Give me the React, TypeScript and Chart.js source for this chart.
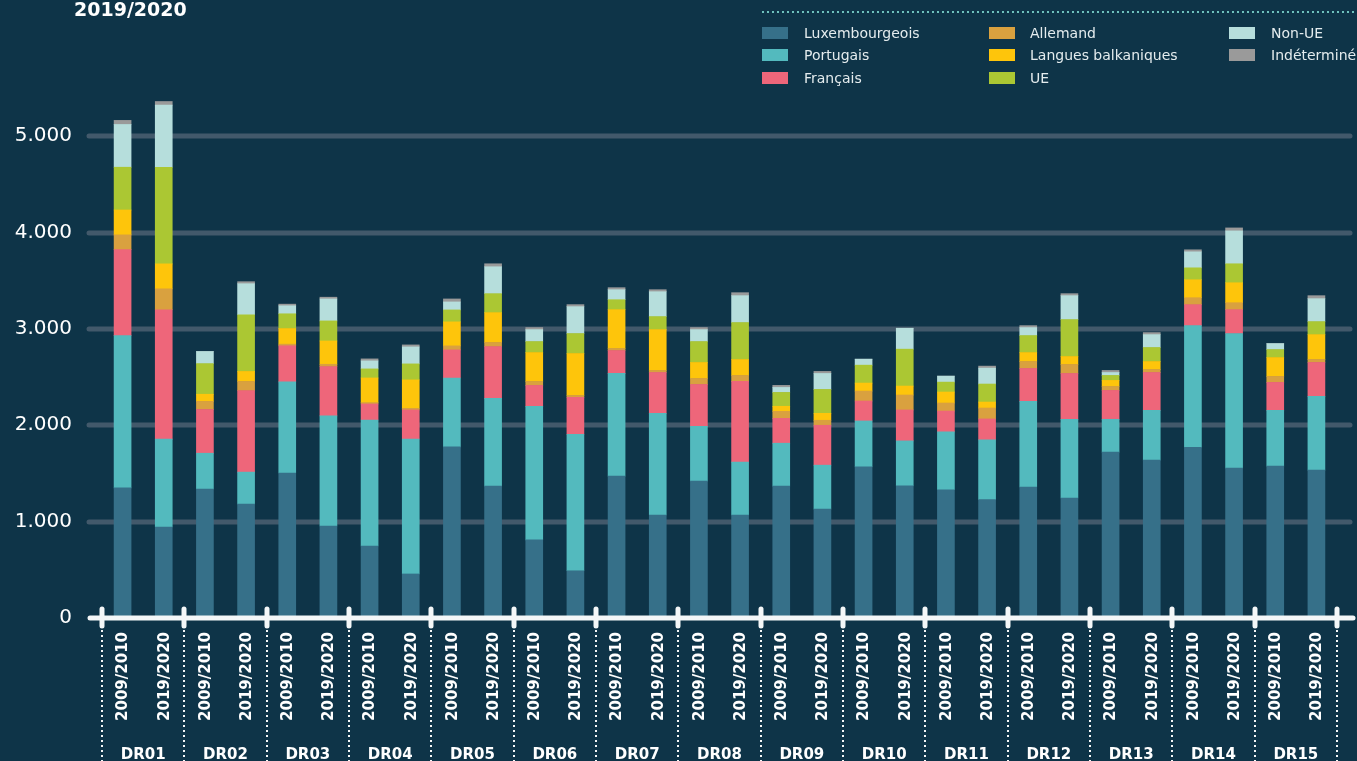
import React, { useEffect, useRef } from 'react';
import { Chart, registerables } from 'chart.js';

Chart.register(...registerables);

const regions = ['DR01', 'DR02', 'DR03', 'DR04', 'DR05', 'DR06', 'DR07', 'DR08', 'DR09', 'DR10', 'DR11', 'DR12', 'DR13', 'DR14', 'DR15'];
const years = ['2009/2010', '2019/2020'];
const categories = regions.flatMap((r) => years.map((y) => `${r} ${y}`));

const luxembourgeois = [1350, 944, 1339, 1182, 1505, 955, 747, 457, 1775, 1369, 810, 490, 1472, 1069, 1421, 1069, 1369, 1131, 1569, 1372, 1331, 1228, 1359, 1245, 1721, 1638, 1772, 1555, 1576, 1534];
const portugais = [1580, 913, 371, 332, 945, 1142, 1308, 1401, 716, 910, 1387, 1417, 1066, 1055, 569, 548, 445, 455, 476, 466, 600, 620, 889, 817, 341, 517, 1262, 1397, 579, 766];
const francais = [892, 1342, 454, 846, 375, 512, 166, 301, 291, 538, 217, 383, 238, 424, 434, 838, 258, 414, 207, 321, 217, 218, 342, 476, 300, 393, 218, 248, 290, 352];
const allemand = [154, 217, 84, 95, 17, 24, 14, 17, 42, 42, 41, 20, 21, 21, 62, 62, 73, 52, 103, 155, 83, 113, 72, 93, 41, 31, 72, 72, 62, 31];
const balkaniques = [258, 259, 74, 104, 162, 242, 256, 295, 249, 310, 300, 435, 403, 424, 166, 166, 52, 72, 83, 93, 114, 62, 93, 83, 63, 83, 186, 207, 196, 258];
const ue = [444, 1003, 318, 588, 153, 208, 94, 166, 124, 197, 114, 207, 103, 135, 217, 383, 144, 248, 186, 383, 103, 187, 176, 383, 51, 145, 124, 197, 83, 135];
const nonUe = [444, 644, 126, 322, 83, 228, 83, 176, 83, 279, 124, 279, 104, 258, 124, 279, 52, 166, 62, 217, 62, 165, 83, 248, 31, 134, 166, 341, 62, 238];
const indetermine = [42, 38, 0, 21, 17, 18, 21, 21, 31, 31, 21, 21, 21, 21, 21, 31, 21, 21, 0, 0, 0, 21, 20, 21, 21, 21, 21, 31, 0, 31];

const seriesNames = ['Luxembourgeois', 'Portugais', 'Français', 'Allemand', 'Langues balkaniques', 'UE', 'Non-UE', 'Indéterminé'];
const seriesColors = ['#367089', '#53babe', '#ee667a', '#d9a13f', '#fec50b', '#abc733', '#b6dedc', '#9a9a9a'];
const seriesValues = [luxembourgeois, portugais, francais, allemand, balkaniques, ue, nonUe, indetermine];

const yTicks = [0, 1000, 2000, 3000, 4000, 5000];
const yTickLabels = ['0', '1.000', '2.000', '3.000', '4.000', '5.000'];
const titleText = '2019/2020';

const BG = '#0e3448';
const FONT = '"DejaVu Sans", sans-serif';

const decorPlugin = {
  id: 'decor',
  beforeDraw(chart: any) {
    const ctx = chart.ctx;
    ctx.save();
    ctx.fillStyle = BG;
    ctx.fillRect(0, 0, chart.width, chart.height);
    ctx.restore();
  },
  beforeDatasetsDraw(chart: any) {
    const ctx = chart.ctx;
    const y = chart.scales.y;
    ctx.save();
    ctx.strokeStyle = '#42596b';
    ctx.lineWidth = 5;
    ctx.lineCap = 'round';
    yTicks.forEach((v) => {
      if (v === 0) return;
      const py = Math.round(y.getPixelForValue(v));
      ctx.beginPath();
      ctx.moveTo(89, py);
      ctx.lineTo(1350, py);
      ctx.stroke();
    });
    ctx.restore();
  },
  afterDatasetsDraw(chart: any) {
    const ctx = chart.ctx;
    const x = chart.scales.x;
    const y = chart.scales.y;
    const y0 = Math.round(y.getPixelForValue(0));
    const catW = (x.right - x.left) / categories.length;
    ctx.save();
    // axis line
    ctx.strokeStyle = '#f4f7f8';
    ctx.lineCap = 'round';
    ctx.lineWidth = 5;
    ctx.beginPath();
    ctx.moveTo(90, y0);
    ctx.lineTo(1353, y0);
    ctx.stroke();
    // group ticks and dotted separators
    for (let g = 0; g <= regions.length; g++) {
      const bx = Math.round(x.left + g * 2 * catW);
      ctx.setLineDash([]);
      ctx.lineWidth = 5;
      ctx.lineCap = 'round';
      ctx.beginPath();
      ctx.moveTo(bx, y0 - 9);
      ctx.lineTo(bx, y0 + 8);
      ctx.stroke();
      ctx.lineCap = 'butt';
      ctx.lineWidth = 2;
      ctx.setLineDash([2, 3]);
      ctx.beginPath();
      ctx.moveTo(bx, y0 + 12);
      ctx.lineTo(bx, 761);
      ctx.stroke();
    }
    ctx.setLineDash([]);
    // year labels
    ctx.fillStyle = '#ffffff';
    ctx.font = `bold 15px ${FONT}`;
    ctx.textAlign = 'right';
    ctx.textBaseline = 'middle';
    categories.forEach((_, i) => {
      const cx = x.getPixelForValue(i);
      ctx.save();
      ctx.translate(cx, 632);
      ctx.rotate(-Math.PI / 2);
      ctx.fillText(years[i % 2], 0, 1);
      ctx.restore();
    });
    // group labels
    ctx.textAlign = 'center';
    ctx.textBaseline = 'alphabetic';
    regions.forEach((r, g) => {
      const cx = x.left + (g * 2 + 1) * catW;
      ctx.fillText(r, cx, 759);
    });
    ctx.restore();
  },
  afterDraw(chart: any) {
    const ctx = chart.ctx;
    ctx.save();
    // title
    ctx.fillStyle = '#ffffff';
    ctx.font = `bold 19px ${FONT}`;
    ctx.textAlign = 'left';
    ctx.textBaseline = 'alphabetic';
    ctx.fillText(titleText, 74, 16);
    // legend dotted line
    ctx.strokeStyle = '#6fc3bf';
    ctx.lineWidth = 2;
    ctx.setLineDash([2, 3]);
    ctx.beginPath();
    ctx.moveTo(762, 12);
    ctx.lineTo(1357, 12);
    ctx.stroke();
    ctx.setLineDash([]);
    // legend items
    const colX = [762, 989, 1229];
    const textX = [804, 1030, 1271];
    const rowY = [33, 55, 78];
    ctx.font = `14px ${FONT}`;
    ctx.textBaseline = 'middle';
    seriesNames.forEach((name, i) => {
      const c = Math.floor(i / 3);
      const r = i % 3;
      ctx.fillStyle = seriesColors[i];
      ctx.fillRect(colX[c], rowY[r] - 6, 26, 12);
      ctx.fillStyle = '#e4ecee';
      ctx.fillText(name, textX[c], rowY[r] + 1);
    });
    ctx.restore();
  },
};

export default function App() {
  const canvasRef = useRef<HTMLCanvasElement | null>(null);

  useEffect(() => {
    document.body.style.margin = '0';
    document.body.style.background = BG;
    const canvas = canvasRef.current;
    if (!canvas) return;
    const chart = new Chart(canvas, {
      type: 'bar',
      data: {
        labels: categories,
        datasets: seriesNames.map((name, i) => ({
          label: name,
          data: seriesValues[i],
          backgroundColor: seriesColors[i],
          borderWidth: 0,
          barThickness: 17,
        })),
      },
      options: {
        responsive: false,
        animation: false,
        devicePixelRatio: 1,
        layout: { padding: { top: 88, bottom: 143, left: 0, right: 20 } },
        plugins: {
          legend: { display: false },
          tooltip: { enabled: false },
          title: { display: false },
        },
        scales: {
          x: {
            stacked: true,
            display: false,
            offset: true,
            grid: { display: false },
          },
          y: {
            stacked: true,
            min: 0,
            max: 5500,
            afterFit: (scale: any) => {
              scale.width = 102;
            },
            afterBuildTicks: (scale: any) => {
              scale.ticks = yTicks.map((v) => ({ value: v }));
            },
            grid: { display: false, drawTicks: false },
            border: { display: false },
            ticks: {
              padding: 30,
              color: '#ffffff',
              font: { family: FONT, size: 20 },
              callback: (_v: any, i: number) => yTickLabels[i],
            },
          },
        },
      },
      plugins: [decorPlugin],
    });
    return () => chart.destroy();
  }, []);

  return (
    <div style={{ position: 'fixed', left: 0, top: 0, width: 1357, height: 761, background: BG }}>
      <canvas ref={canvasRef} width={1357} height={761} style={{ display: 'block', width: 1357, height: 761 }} />
    </div>
  );
}
